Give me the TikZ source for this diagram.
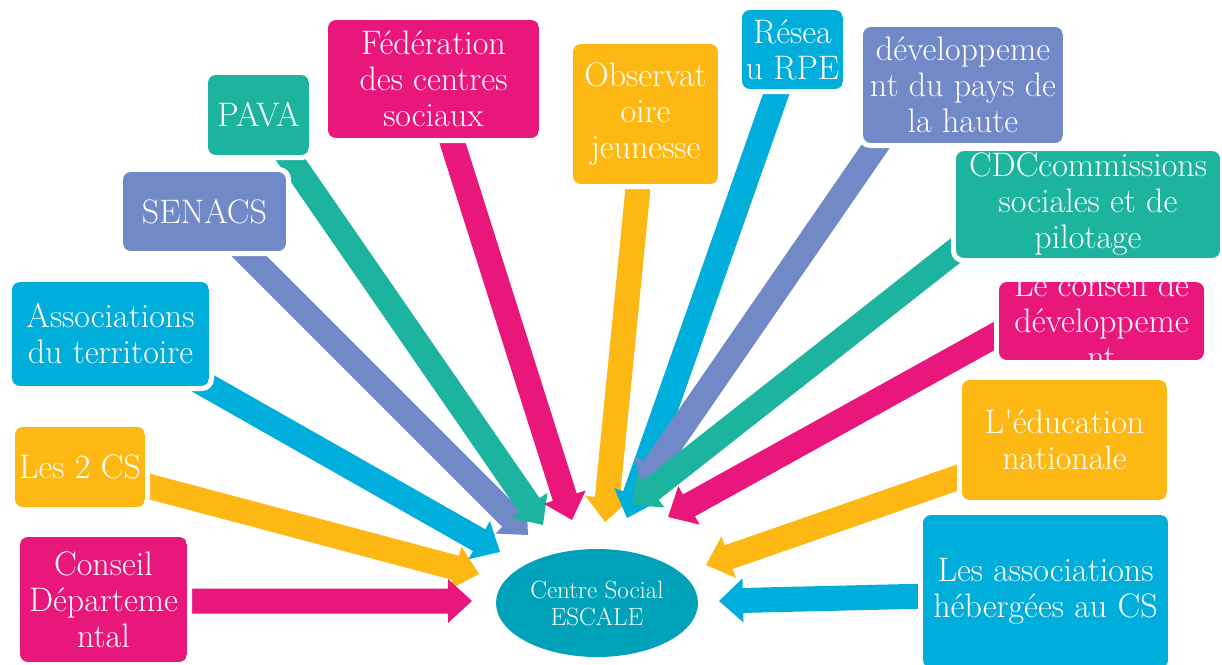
\documentclass[tikz,border=0pt]{standalone}
\usepackage{fontspec}
\usetikzlibrary{calc,shapes.geometric}
\definecolor{pinkc}{HTML}{E9177C}
\definecolor{tealc}{HTML}{1CB49E}
\definecolor{bluec}{HTML}{7289C8}
\definecolor{cyanc}{HTML}{00AEDB}
\definecolor{orangec}{HTML}{FDB813}
\definecolor{ellc}{HTML}{00A2B9}
\newcommand\barrow[3]{%
  \coordinate (bb) at ($(#3)!24pt!(#2)$);
  \fill[#1] ($(#2)!12.5pt!90:(#3)$) -- ($(bb)!12.5pt!90:(#3)$) -- ($(bb)!22pt!90:(#3)$) -- (#3)
    -- ($(bb)!22pt!-90:(#3)$) -- ($(bb)!12.5pt!-90:(#3)$) -- ($(#2)!12.5pt!-90:(#3)$) -- cycle;}
\newcommand\cbox[7]{%
  \fill[white, rounded corners=12pt] (#3-5,#4-5) rectangle (#5+5,#6+5);
  \begin{scope}
    \clip[rounded corners=8pt] (#3,#4) rectangle (#5,#6);
    \fill[#2] (#3,#4) rectangle (#5,#6);
    \node[boxtext] (#1) at ({(#3+#5)/2},{(#4+#6)/2}) {#7};
  \end{scope}}
\begin{document}
\begin{tikzpicture}[x=1pt,y=-1pt,
  boxtext/.style={text=white, align=center, inner sep=0pt, font=\fontsize{34}{36}\selectfont}]
\useasboundingbox (0,0) rectangle (1222,664);
\fill[white] (0,0) rectangle (1222,664);
% arrow ends
\coordinate (s1) at (180,601);  \coordinate (t1) at (472,601);
\coordinate (s2) at (140,484);  \coordinate (t2) at (479,574);
\coordinate (s3) at (190,376);  \coordinate (t3) at (500,552);
\coordinate (s4) at (240,247);  \coordinate (t4) at (528,535);
\coordinate (s5) at (284,150);  \coordinate (t5) at (543,525);
\coordinate (s6) at (450,135);  \coordinate (t6) at (572,520);
\coordinate (s7) at (639,178);  \coordinate (t7) at (605,522);
\coordinate (s8) at (779,86);   \coordinate (t8) at (627,518);
\coordinate (s9) at (880,140);  \coordinate (t9) at (640,488);
\coordinate (s10) at (965,243); \coordinate (t10) at (632,505);
\coordinate (s11) at (1005,330);\coordinate (t11) at (668,517);
\coordinate (s12) at (965,475); \coordinate (t12) at (706,565);
\coordinate (s13) at (930,596); \coordinate (t13) at (719,601);
% arrows
\barrow{bluec}{s4}{t4}
\barrow{tealc}{s5}{t5}
\barrow{cyanc}{s3}{t3}
\barrow{orangec}{s2}{t2}
\barrow{pinkc}{s1}{t1}
\barrow{pinkc}{s6}{t6}
\barrow{orangec}{s7}{t7}
\barrow{cyanc}{s8}{t8}
\barrow{bluec}{s9}{t9}
\barrow{tealc}{s10}{t10}
\barrow{pinkc}{s11}{t11}
\barrow{orangec}{s12}{t12}
\barrow{cyanc}{s13}{t13}
% boxes
\cbox{fed}{pinkc}{328}{20}{539}{138}{Fédération\\des centres\\sociaux}
\cbox{pava}{tealc}{208}{75}{309}{155}{PAVA}
\cbox{senacs}{bluec}{123}{172}{286}{251}{SENACS}
\cbox{assoc}{cyanc}{12}{282}{209}{386}{Associations\\du territoire}
\cbox{cs2}{orangec}{15}{427}{145}{507}{Les 2 CS}
\cbox{cd}{pinkc}{20}{537}{187}{662}{Conseil\\Départeme\\ntal}
\cbox{obs}{orangec}{573}{44}{718}{184}{Observat\\oire\\jeunesse}
\cbox{rpe}{cyanc}{742}{10}{843}{89}{Résea\\u RPE}
\cbox{dev}{bluec}{863}{27}{1063}{143}{développeme\\nt du pays de\\la haute}
\cbox{cdc}{tealc}{956}{151}{1220}{258}{CDCcommissions\\sociales et de\\pilotage}
\cbox{cons}{pinkc}{999}{282}{1204}{360}{Le conseil de\\développeme\\nt}
\cbox{edu}{orangec}{962}{380}{1167}{500}{L\textquotesingle éducation\\nationale}
\cbox{heb}{cyanc}{923}{515}{1168}{668}{Les associations\\hébergées au CS}
% centre
\node[ellipse, fill=ellc, minimum width=202, minimum height=108, inner sep=0pt,
  text=white, align=center, font=\fontsize{25}{27}\selectfont] (cs) at (597,603) {Centre Social\\ESCALE};
\end{tikzpicture}
\end{document}
